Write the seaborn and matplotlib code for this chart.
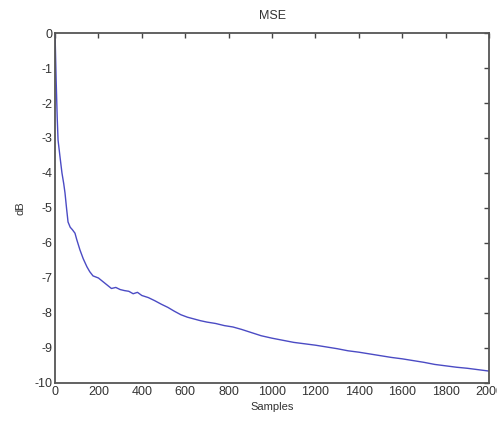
import numpy as np
import pandas as pd
import matplotlib
matplotlib.use("Agg")
import matplotlib.pyplot as plt
import seaborn as sns

samples = [0, 2, 5, 10, 14, 23, 32, 40, 46, 53, 60, 70, 80, 92, 100, 115, 130, 147,
           160, 175, 200, 220, 240, 260, 280, 300, 320, 340, 360, 380, 400, 430,
           460, 490, 520, 550, 580, 610, 640, 670, 700, 740, 780, 820, 860, 900,
           950, 1000, 1050, 1100, 1150, 1200, 1250, 1300, 1350, 1400, 1450, 1500,
           1550, 1600, 1650, 1700, 1750, 1800, 1850, 1900, 1950, 2000]
mse_db = [0.0, -0.5, -1.3, -2.4, -3.06, -3.54, -4.0, -4.3, -4.57, -5.0, -5.4,
          -5.55, -5.62, -5.72, -5.9, -6.2, -6.45, -6.68, -6.82, -6.94, -7.0, -7.1,
          -7.2, -7.3, -7.27, -7.33, -7.36, -7.38, -7.45, -7.41, -7.5, -7.56, -7.65,
          -7.75, -7.84, -7.95, -8.05, -8.12, -8.17, -8.22, -8.26, -8.3, -8.36,
          -8.4, -8.47, -8.55, -8.65, -8.72, -8.78, -8.84, -8.88, -8.92, -8.97,
          -9.02, -9.08, -9.12, -9.17, -9.22, -9.27, -9.31, -9.36, -9.41, -9.47,
          -9.51, -9.55, -9.58, -9.62, -9.66]

x_ticks = list(range(0, 2001, 200))
y_ticks = list(range(-10, 1))

sns.set_style("white")
plt.rcParams["font.family"] = ["Liberation Sans", "DejaVu Sans"]
plt.rcParams["axes.unicode_minus"] = False
plt.rcParams["xtick.direction"] = "in"
plt.rcParams["ytick.direction"] = "in"

df = pd.DataFrame({"Samples": samples, "dB": mse_db})

fig = plt.figure(figsize=(4.97, 4.21), dpi=100)
ax = fig.add_axes([0.1107, 0.0903, 0.8733, 0.8313])
sns.lineplot(data=df, x="Samples", y="dB", ax=ax, color="#4b4bc4", linewidth=1.0)

ax.set_xlim(0, 2000)
ax.set_ylim(-10, 0)
ax.set_xticks(x_ticks)
ax.set_yticks(y_ticks)
ax.tick_params(axis="both", which="both", direction="in", length=3.5, width=1.0,
               color="#444444", labelsize=9, labelcolor="#333333",
               top=True, right=True, pad=2)
for s in ax.spines.values():
    s.set_visible(True)
    s.set_color("#555555")
    s.set_linewidth(1.3)

ax.set_title("MSE", fontsize=9, color="#333333", pad=10)
ax.set_xlabel("Samples", fontsize=8, color="#333333", labelpad=3)
ax.set_ylabel("dB", fontsize=8, color="#333333", labelpad=6)

fig.savefig("out.png", dpi=100)
